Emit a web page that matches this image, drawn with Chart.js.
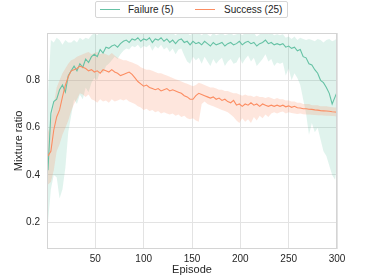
<!DOCTYPE html>
<html>
<head>
<meta charset="utf-8">
<script src="https://cdn.jsdelivr.net/npm/chart.js@4.4.0/dist/chart.umd.min.js"></script>
<style>
  html, body { margin: 0; padding: 0; background: #fff; }
  #wrap { position: relative; width: 374px; height: 280px; }
  #legend {
    position: absolute; left: 95px; top: 1px; width: 191px; height: 15px;
    border: 1px solid #d6d6d6; border-radius: 2px; background: #fff;
    font: 10px "Liberation Sans", Arial, sans-serif; color: #262626;
  }
  .lab { position: absolute; top: 0; line-height: 15px; white-space: nowrap; }
  .sw { position: absolute; top: 7px; width: 20px; height: 1px; }
</style>
</head>
<body>
<div id="wrap">
  <canvas id="chart" width="374" height="280"></canvas>
  <div id="legend">
    <span class="sw" style="left:4px;background:#66c2a5"></span>
    <span class="lab" style="left:32px">Failure (5)</span>
    <span class="sw" style="left:99px;background:#fc8d62"></span>
    <span class="lab" style="left:128px">Success (25)</span>
  </div>
</div>
<script>
// ── DATA ──
const episodes = [
  1,4,7,10,13,16,19,22,25,28,
  31,34,37,40,43,46,49,52,55,58,
  61,64,67,70,73,76,79,82,85,88,
  91,94,97,100,103,106,109,112,115,118,
  121,124,127,130,133,136,139,142,145,148,
  151,154,157,160,163,166,169,172,175,178,
  181,184,187,190,193,196,199,202,205,208,
  211,214,217,220,223,226,229,232,235,238,
  241,244,247,250,253,256,259,262,265,268,
  271,274,277,280,283,286,289,292,295,298,
  300
];

// Failure (5): mean and band edges
const failureMean = [
  0.42,0.66,0.71,0.72,0.76,0.78,0.75,0.82,0.84,0.86,
  0.84,0.87,0.855,0.89,0.875,0.90,0.91,0.90,0.93,0.915,
  0.94,0.935,0.945,0.95,0.94,0.955,0.965,0.97,0.96,0.975,
  0.97,0.98,0.965,0.975,0.97,0.98,0.96,0.975,0.97,0.98,
  0.965,0.975,0.96,0.97,0.955,0.97,0.975,0.96,0.965,0.95,
  0.965,0.955,0.96,0.95,0.965,0.955,0.945,0.96,0.95,0.955,
  0.96,0.945,0.955,0.96,0.95,0.955,0.965,0.95,0.96,0.965,
  0.955,0.96,0.945,0.955,0.96,0.97,0.955,0.96,0.95,0.955,
  0.95,0.955,0.94,0.945,0.935,0.94,0.925,0.93,0.90,0.895,
  0.87,0.865,0.845,0.83,0.80,0.79,0.77,0.745,0.70,0.73,
  0.75
];
const failureLow = [
  0.20,0.34,0.40,0.39,0.30,0.34,0.43,0.58,0.65,0.72,
  0.70,0.74,0.72,0.77,0.75,0.79,0.81,0.80,0.84,0.83,
  0.86,0.87,0.885,0.90,0.89,0.91,0.925,0.935,0.93,0.945,
  0.94,0.95,0.935,0.945,0.94,0.95,0.925,0.945,0.935,0.95,
  0.93,0.94,0.92,0.935,0.91,0.93,0.935,0.905,0.88,0.87,
  0.90,0.885,0.895,0.87,0.90,0.88,0.86,0.89,0.87,0.885,
  0.895,0.86,0.88,0.89,0.87,0.875,0.90,0.87,0.89,0.905,
  0.88,0.895,0.86,0.875,0.89,0.91,0.88,0.89,0.86,0.875,
  0.87,0.875,0.82,0.85,0.80,0.83,0.81,0.78,0.72,0.66,
  0.57,0.62,0.58,0.60,0.55,0.50,0.48,0.44,0.40,0.38,
  0.45
];
const failureHigh = [
  0.74,0.97,0.96,0.98,0.97,0.95,0.97,0.96,0.96,0.97,
  0.96,0.98,0.97,0.98,0.975,0.99,1.0,0.99,1.01,1.0,
  1.01,1.0,1.01,1.01,1.0,1.01,1.01,1.0,1.01,1.01,
  1.01,1.01,1.0,1.01,1.0,1.01,1.0,1.01,1.01,1.01,
  1.0,1.01,0.995,1.0,0.99,1.0,1.01,1.0,1.0,0.99,
  1.0,0.995,1.0,0.99,1.0,0.995,0.985,1.0,0.99,0.995,
  1.0,0.99,0.995,1.0,0.99,0.995,1.0,0.99,1.0,1.0,
  0.995,1.0,0.985,0.995,1.0,1.01,0.995,1.0,0.99,0.995,
  0.99,0.995,0.98,0.985,0.975,0.985,0.97,0.98,0.975,0.97,
  0.975,0.97,0.965,0.975,0.97,0.96,0.97,0.975,0.965,0.97,
  0.98
];

// Success (25): mean and band edges
const successMean = [
  0.48,0.50,0.59,0.645,0.675,0.73,0.78,0.815,0.84,0.845,
  0.85,0.86,0.855,0.85,0.84,0.845,0.835,0.84,0.83,0.845,
  0.84,0.835,0.845,0.835,0.83,0.82,0.825,0.83,0.835,0.825,
  0.81,0.795,0.785,0.775,0.78,0.77,0.765,0.76,0.765,0.755,
  0.76,0.765,0.755,0.76,0.755,0.75,0.745,0.735,0.73,0.72,
  0.72,0.735,0.745,0.74,0.735,0.73,0.725,0.73,0.72,0.725,
  0.715,0.72,0.71,0.705,0.715,0.695,0.70,0.69,0.70,0.695,
  0.705,0.695,0.70,0.69,0.70,0.695,0.69,0.695,0.69,0.695,
  0.69,0.695,0.688,0.692,0.686,0.69,0.684,0.683,0.68,0.68,
  0.678,0.677,0.675,0.674,0.672,0.671,0.67,0.669,0.667,0.666,
  0.665
];
const successLow = [
  0.36,0.37,0.42,0.50,0.53,0.57,0.60,0.63,0.67,0.70,
  0.72,0.745,0.74,0.73,0.74,0.72,0.715,0.705,0.72,0.71,
  0.715,0.705,0.72,0.71,0.715,0.72,0.715,0.72,0.71,0.705,
  0.70,0.69,0.685,0.675,0.68,0.67,0.675,0.665,0.67,0.66,
  0.665,0.66,0.655,0.66,0.65,0.655,0.645,0.65,0.64,0.635,
  0.64,0.63,0.625,0.70,0.71,0.70,0.695,0.69,0.685,0.68,
  0.675,0.67,0.665,0.655,0.645,0.63,0.62,0.64,0.625,0.635,
  0.62,0.645,0.63,0.65,0.64,0.655,0.645,0.66,0.665,0.66,
  0.665,0.668,0.66,0.665,0.662,0.66,0.658,0.66,0.657,0.655,
  0.655,0.654,0.653,0.652,0.652,0.651,0.65,0.65,0.649,0.648,
  0.648
];
const successHigh = [
  0.58,0.62,0.70,0.77,0.80,0.83,0.85,0.87,0.885,0.89,
  0.90,0.905,0.91,0.915,0.92,0.91,0.915,0.92,0.91,0.915,
  0.91,0.905,0.915,0.905,0.895,0.89,0.885,0.885,0.88,0.875,
  0.87,0.865,0.855,0.85,0.845,0.845,0.84,0.835,0.83,0.83,
  0.825,0.82,0.815,0.81,0.805,0.80,0.795,0.79,0.785,0.78,
  0.775,0.78,0.79,0.785,0.78,0.775,0.77,0.77,0.765,0.76,
  0.76,0.755,0.755,0.75,0.745,0.745,0.74,0.735,0.74,0.735,
  0.735,0.73,0.735,0.73,0.73,0.725,0.73,0.725,0.72,0.725,
  0.72,0.72,0.715,0.715,0.71,0.71,0.705,0.705,0.70,0.70,
  0.70,0.695,0.695,0.695,0.69,0.69,0.69,0.688,0.686,0.685,
  0.685
];

const xTicks = [50, 100, 150, 200, 250, 300];
const yTicks = [0.2, 0.4, 0.6, 0.8];

// ── CHART ──
const GREEN = '#66c2a5', ORANGE = '#fc8d62';
const TXT = '#262626', GRID = '#e3e3e3';
const FONT = '"Liberation Sans", Arial, sans-serif';

const pts = ys => ys.map((y, i) => ({ x: episodes[i], y }));
const edge = (ys, order) => ({ data: pts(ys), borderWidth: 0, borderColor: 'rgba(0,0,0,0)', pointRadius: 0, fill: false, order });

// spines on all four sides, over the bands
const frame = {
  id: 'frame',
  afterDatasetsDraw(chart) {
    const { ctx, chartArea: a } = chart;
    ctx.save();
    ctx.strokeStyle = '#d4d4d4';
    ctx.lineWidth = 1;
    ctx.strokeRect(a.left + 0.5, a.top + 0.5, a.right - a.left - 1, a.bottom - a.top - 1);
    ctx.restore();
  }
};

new Chart(document.getElementById('chart'), {
  type: 'line',
  data: {
    datasets: [
      edge(failureLow, 5),
      { ...edge(failureHigh, 4), fill: 0, backgroundColor: 'rgba(102,194,165,0.2)' },
      edge(successLow, 3),
      { ...edge(successHigh, 2), fill: 2, backgroundColor: 'rgba(252,141,98,0.22)' },
      { data: pts(failureMean), borderColor: GREEN, borderWidth: 1.1, pointRadius: 0, fill: false, order: 1 },
      { data: pts(successMean), borderColor: ORANGE, borderWidth: 1.1, pointRadius: 0, fill: false, order: 0 }
    ]
  },
  options: {
    responsive: false,
    animation: false,
    devicePixelRatio: 1,
    layout: { padding: { top: 33, right: 37, left: 0, bottom: 0 } },
    plugins: { legend: { display: false }, tooltip: { enabled: false }, filler: { propagate: false } },
    scales: {
      x: {
        type: 'linear', min: 0, max: 300,
        afterBuildTicks: s => { s.ticks = xTicks.map(v => ({ value: v })); },
        afterFit: s => { s.height = 31; },
        ticks: { color: TXT, font: { family: FONT, size: 10 }, padding: 4, maxRotation: 0, autoSkip: false },
        grid: { color: GRID, drawTicks: false },
        border: { display: false },
        title: { display: true, text: 'Episode', color: TXT, font: { family: FONT, size: 11 }, padding: { top: 0, bottom: 3.4 } }
      },
      y: {
        type: 'linear', min: 0.087, max: 1.0,
        afterBuildTicks: s => { s.ticks = yTicks.map(v => ({ value: v })); },
        afterFit: s => { s.width = 47; },
        ticks: { color: TXT, font: { family: FONT, size: 10 }, padding: 7, callback: v => v.toFixed(1) },
        grid: { color: GRID, drawTicks: false },
        border: { display: false },
        title: { display: true, text: 'Mixture ratio', color: TXT, font: { family: FONT, size: 11 }, padding: { top: 12, bottom: 0 } }
      }
    }
  },
  plugins: [frame]
});
</script>
</body>
</html>
